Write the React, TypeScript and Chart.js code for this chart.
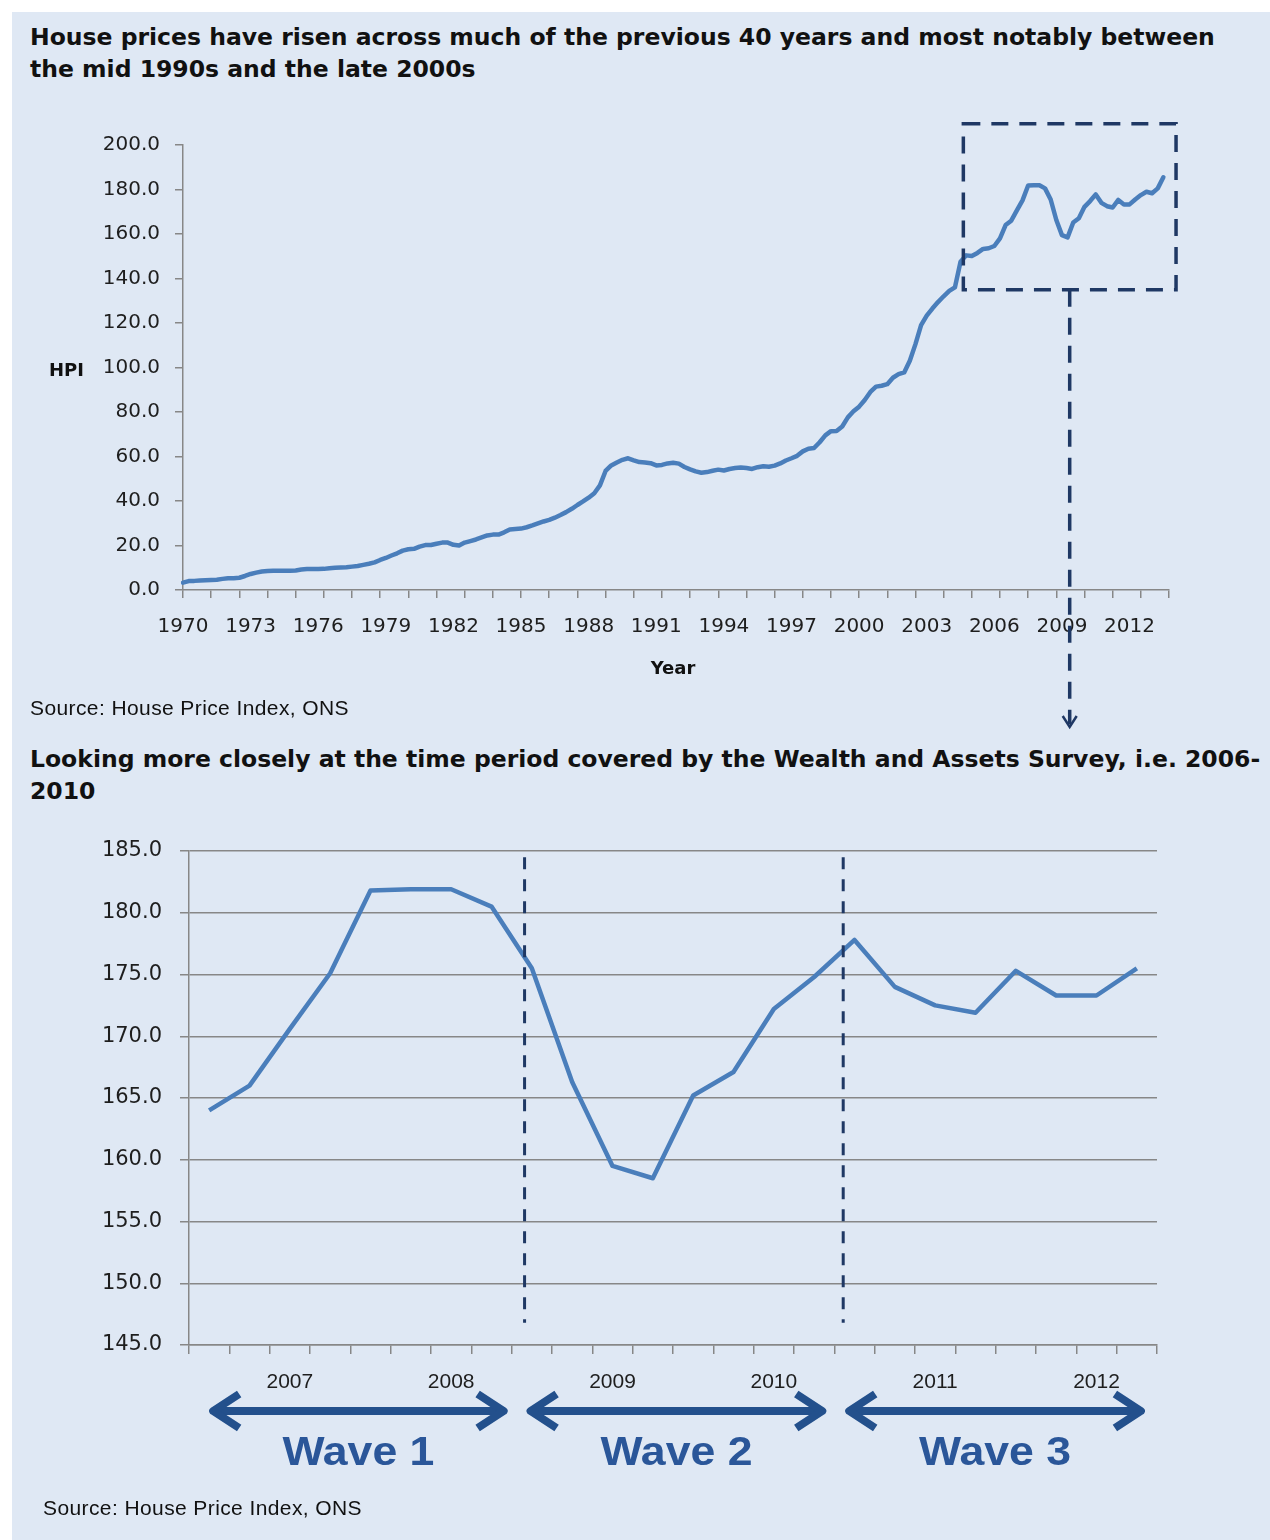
import React, { useEffect, useRef } from "react";
import { Chart, registerables } from "chart.js";

Chart.register(...registerables);

// ---------- data ----------
const hpiYears: number[] = Array.from({ length: 44 }, (_, k) => 1970 + k);
const hpiQuarterLabels: string[] = hpiYears.flatMap((y) => [1, 2, 3, 4].map((q) => `${y} Q${q}`));

// ONS House Price Index, quarterly 1970 Q1 .. 2013 Q3
const hpiQuarterly: number[] = [
  3.3, 4.0, 4.1, 4.3,
  4.4, 4.5, 4.6, 5.0,
  5.3, 5.3, 5.5, 6.3,
  7.2, 7.8, 8.3, 8.5,
  8.6, 8.7, 8.7, 8.7,
  8.8, 9.2, 9.4, 9.4,
  9.4, 9.5, 9.8, 10.0,
  10.1, 10.2, 10.5, 10.8,
  11.3, 11.8, 12.4, 13.5,
  14.4, 15.5, 16.5, 17.7,
  18.3, 18.5, 19.5, 20.2,
  20.2, 20.8, 21.3, 21.3,
  20.3, 20.0, 21.3, 22.0,
  22.7, 23.6, 24.5, 24.9,
  24.9, 25.9, 27.2, 27.4,
  27.6, 28.2, 29.0, 29.9,
  30.8, 31.5, 32.5, 33.7,
  35.0, 36.5, 38.2, 39.8,
  41.5, 43.5, 47.0, 53.5,
  56.0, 57.3, 58.5, 59.2,
  58.3, 57.5, 57.3, 57.0,
  56.0, 56.2, 56.9, 57.2,
  56.8, 55.3, 54.2, 53.3,
  52.7, 53.0, 53.6, 54.1,
  53.7, 54.4, 54.8, 55.1,
  54.8, 54.4, 55.2, 55.6,
  55.4, 55.9, 56.9, 58.2,
  59.2, 60.3, 62.3, 63.5,
  63.8, 66.4, 69.5, 71.4,
  71.5, 73.5, 77.6, 80.3,
  82.4, 85.4, 89.0, 91.4,
  91.8, 92.5, 95.4, 97.0,
  97.8, 103.0, 110.5, 119.0,
  123.3, 126.5, 129.4, 132.0,
  134.4, 136.0, 147.5, 150.4,
  150.1, 151.5, 153.3, 153.6,
  154.6, 158.0, 164.0, 166.0,
  170.6, 175.1, 181.8, 181.9,
  181.9, 180.5, 175.5, 166.3,
  159.5, 158.5, 165.2, 167.1,
  172.2, 174.8, 177.8, 174.0,
  172.5, 171.9, 175.3, 173.3,
  173.3, 175.5, 177.5, 179.0,
  178.3, 180.5, 185.5,
];

const topYMin = 0;
const topYMax = 200;
const topYStep = 20;

// highlighted period on the top chart (quarter index, HPI)
const zoomBoxQuarters = [138.5, 176.25];
const zoomBoxHpi = [134.9, 209.6];

// Wealth and Assets Survey period, quarterly 2006 Q3 .. 2012 Q2
const waveQuarterLabels: string[] = [
  "2006 Q3", "2006 Q4",
  "2007 Q1", "2007 Q2", "2007 Q3", "2007 Q4",
  "2008 Q1", "2008 Q2", "2008 Q3", "2008 Q4",
  "2009 Q1", "2009 Q2", "2009 Q3", "2009 Q4",
  "2010 Q1", "2010 Q2", "2010 Q3", "2010 Q4",
  "2011 Q1", "2011 Q2", "2011 Q3", "2011 Q4",
  "2012 Q1", "2012 Q2",
];
const waveHpi: number[] = [
  164.0, 166.0,
  170.6, 175.1, 181.8, 181.9,
  181.9, 180.5, 175.5, 166.3,
  159.5, 158.5, 165.2, 167.1,
  172.2, 174.8, 177.8, 174.0,
  172.5, 171.9, 175.3, 173.3,
  173.3, 175.5,
];
const bottomYMin = 145;
const bottomYMax = 185;
const bottomYStep = 5;

const waveNames = ["Wave 1", "Wave 2", "Wave 3"];
const waveStarts = [0, 7.87, 15.77];
const waveEnds = [7.4, 15.3, 23.2];
const waveDividers = [7.82, 15.72];
const dividerHpiRange = [146.8, 184.5];

// ---------- styles ----------
const LINE = "#4a7ebb";
const AXIS = "#878787";
const TEXT = "#1e1e1e";
const NAVY = "#1f3864";
const ARROW = "#23508c";
const WAVE_TEXT = "#2a5699";
const PANEL = "#dfe8f4";
const TICK_FONT = "'DejaVu Sans', sans-serif";
const WAVE_LABEL_WIDTH = 152;

const zoomBoxPlugin = {
  id: "zoomBox",
  afterDraw(chart: any) {
    const { ctx, scales, chartArea } = chart;
    const xs = scales.x;
    const ys = scales.y;
    const x1 = xs.getPixelForValue(zoomBoxQuarters[0]);
    const x2 = xs.getPixelForValue(zoomBoxQuarters[1]);
    const yb = ys.getPixelForValue(zoomBoxHpi[0]);
    const yt = ys.getPixelForValue(zoomBoxHpi[1]);
    const xc = (x1 + x2) / 2;
    const tipY = chartArea.bottom + 137;
    ctx.save();
    ctx.strokeStyle = NAVY;
    ctx.lineWidth = 3.5;
    ctx.setLineDash([17, 11]);
    ctx.strokeRect(x1, yt, x2 - x1, yb - yt);
    ctx.beginPath();
    ctx.moveTo(xc, yb);
    ctx.lineTo(xc, tipY - 3);
    ctx.stroke();
    ctx.setLineDash([]);
    ctx.lineWidth = 2.5;
    ctx.beginPath();
    ctx.moveTo(xc - 7, tipY - 11);
    ctx.lineTo(xc, tipY);
    ctx.lineTo(xc + 7, tipY - 11);
    ctx.stroke();
    ctx.restore();
  },
};

function drawDoubleArrow(ctx: CanvasRenderingContext2D, x1: number, x2: number, y: number) {
  ctx.lineWidth = 8;
  ctx.lineCap = "butt";
  ctx.lineJoin = "round";
  ctx.beginPath();
  ctx.moveTo(x1 + 6, y);
  ctx.lineTo(x2 - 6, y);
  ctx.stroke();
  ctx.beginPath();
  ctx.moveTo(x1 + 30, y - 17);
  ctx.lineTo(x1 + 4, y);
  ctx.lineTo(x1 + 30, y + 17);
  ctx.stroke();
  ctx.beginPath();
  ctx.moveTo(x2 - 30, y - 17);
  ctx.lineTo(x2 - 4, y);
  ctx.lineTo(x2 - 30, y + 17);
  ctx.stroke();
}

const wavesPlugin = {
  id: "waves",
  afterDraw(chart: any) {
    const { ctx, scales, chartArea } = chart;
    const xs = scales.x;
    const ys = scales.y;
    ctx.save();
    ctx.strokeStyle = NAVY;
    ctx.lineWidth = 3;
    ctx.setLineDash([12, 10]);
    waveDividers.forEach((d) => {
      const x = xs.getPixelForValue(d);
      ctx.beginPath();
      ctx.moveTo(x, ys.getPixelForValue(dividerHpiRange[1]));
      ctx.lineTo(x, ys.getPixelForValue(dividerHpiRange[0]));
      ctx.stroke();
    });
    ctx.setLineDash([]);
    const arrowY = chartArea.bottom + 66;
    const labelY = chartArea.bottom + 120;
    waveNames.forEach((name, i) => {
      const a = xs.getPixelForValue(waveStarts[i]);
      const b = xs.getPixelForValue(waveEnds[i]);
      ctx.strokeStyle = ARROW;
      drawDoubleArrow(ctx, a, b, arrowY);
      ctx.fillStyle = WAVE_TEXT;
      ctx.font = "bold 41px 'Liberation Sans Narrow', 'Liberation Sans', Arial, sans-serif";
      ctx.textAlign = "center";
      ctx.textBaseline = "alphabetic";
      const w = ctx.measureText(name).width;
      const sx = WAVE_LABEL_WIDTH / w;
      ctx.save();
      ctx.translate((a + b) / 2, labelY);
      ctx.scale(sx, 1);
      ctx.fillText(name, 0, 0);
      ctx.restore();
    });
    ctx.restore();
  },
};

function TopChart() {
  const ref = useRef<HTMLCanvasElement | null>(null);
  useEffect(() => {
    const canvas = ref.current;
    if (!canvas) return;
    const tickColor = (c: any) => (c.index === undefined || c.index % 5 === 0 ? AXIS : "rgba(0,0,0,0)");
    const chart = new Chart(canvas, {
      type: "line",
      data: {
        labels: hpiQuarterLabels,
        datasets: [
          {
            data: hpiQuarterly,
            borderColor: LINE,
            borderWidth: 4.5,
            pointRadius: 0,
            tension: 0,
            fill: false,
            borderJoinStyle: "round",
            borderCapStyle: "round",
          },
        ],
      },
      options: {
        responsive: false,
        animation: false,
        layout: { padding: { left: 0, top: 45, right: 101, bottom: 0 } },
        plugins: { legend: { display: false }, tooltip: { enabled: false } },
        scales: {
          x: {
            type: "category",
            offset: false,
            grid: {
              display: true,
              drawOnChartArea: false,
              drawTicks: true,
              tickLength: 8,
              lineWidth: 1.5,
              tickWidth: 1.5,
              color: tickColor,
              tickColor: tickColor,
            },
            border: { display: true, color: AXIS, width: 1.5 },
            ticks: {
              autoSkip: false,
              maxRotation: 0,
              minRotation: 0,
              padding: 17,
              color: TEXT,
              font: { family: TICK_FONT, size: 20 },
              callback: (_v: any, i: number) => (i % 12 === 0 ? hpiQuarterLabels[i].slice(0, 4) : ""),
            },
            afterFit: (s: any) => {
              s.height = 150;
            },
          },
          y: {
            min: topYMin,
            max: topYMax,
            grid: {
              drawOnChartArea: false,
              drawTicks: true,
              tickLength: 8,
              color: AXIS,
              lineWidth: 1.5,
            },
            border: { display: true, color: AXIS, width: 1.5 },
            ticks: {
              stepSize: topYStep,
              padding: 15,
              color: TEXT,
              font: { family: TICK_FONT, size: 20 },
              callback: (v: any) => Number(v).toFixed(1),
            },
            afterFit: (s: any) => {
              s.width = 183;
            },
          },
        },
      },
      plugins: [zoomBoxPlugin],
    } as any);
    return () => chart.destroy();
  }, []);
  return (
    <canvas
      ref={ref}
      width={1270}
      height={640}
      style={{ position: "absolute", left: 0, top: 100, width: 1270, height: 640, zIndex: 1 }}
    />
  );
}

function BottomChart() {
  const ref = useRef<HTMLCanvasElement | null>(null);
  useEffect(() => {
    const canvas = ref.current;
    if (!canvas) return;
    const chart = new Chart(canvas, {
      type: "line",
      data: {
        labels: waveQuarterLabels,
        datasets: [
          {
            data: waveHpi,
            borderColor: LINE,
            borderWidth: 4.5,
            pointRadius: 0,
            tension: 0,
            fill: false,
            borderJoinStyle: "round",
            borderCapStyle: "butt",
          },
        ],
      },
      options: {
        responsive: false,
        animation: false,
        layout: { padding: { left: 0, top: 31, right: 113, bottom: 0 } },
        plugins: { legend: { display: false }, tooltip: { enabled: false } },
        scales: {
          x: {
            type: "category",
            offset: true,
            grid: {
              display: true,
              offset: true,
              drawOnChartArea: false,
              drawTicks: true,
              tickLength: 9,
              lineWidth: 1.5,
              color: AXIS,
            },
            border: { display: true, color: AXIS, width: 1.5 },
            ticks: {
              autoSkip: false,
              maxRotation: 0,
              minRotation: 0,
              padding: 16,
              color: TEXT,
              font: { family: "'Liberation Sans', Arial, sans-serif", size: 21 },
              callback: (_v: any, i: number) =>
                waveQuarterLabels[i].endsWith("Q1") ? waveQuarterLabels[i].slice(0, 4) : "",
            },
            afterFit: (s: any) => {
              s.height = 175;
            },
          },
          y: {
            min: bottomYMin,
            max: bottomYMax,
            grid: {
              drawOnChartArea: true,
              drawTicks: true,
              tickLength: 9,
              color: AXIS,
              lineWidth: 1.5,
            },
            border: { display: true, color: AXIS, width: 1.5 },
            ticks: {
              stepSize: bottomYStep,
              padding: 18,
              color: TEXT,
              font: { family: TICK_FONT, size: 21 },
              callback: (v: any) => Number(v).toFixed(1),
            },
            afterFit: (s: any) => {
              s.width = 189;
            },
          },
        },
      },
      plugins: [wavesPlugin],
    } as any);
    return () => chart.destroy();
  }, []);
  return (
    <canvas
      ref={ref}
      width={1270}
      height={700}
      style={{ position: "absolute", left: 0, top: 820, width: 1270, height: 700, zIndex: 1 }}
    />
  );
}

const titleStyle: React.CSSProperties = {
  position: "absolute",
  left: 30,
  fontFamily: "'DejaVu Sans', sans-serif",
  fontWeight: "bold",
  fontSize: 23.5,
  lineHeight: "32px",
  color: "#111111",
  whiteSpace: "nowrap",
  zIndex: 2,
};

const sourceStyle: React.CSSProperties = {
  position: "absolute",
  fontFamily: "'Liberation Sans', Arial, sans-serif",
  fontSize: 21,
  letterSpacing: "0.4px",
  lineHeight: "22px",
  color: "#111111",
  whiteSpace: "nowrap",
  zIndex: 2,
};

const axisTitleStyle: React.CSSProperties = {
  position: "absolute",
  fontFamily: "'DejaVu Sans', sans-serif",
  fontWeight: "bold",
  fontSize: 18,
  lineHeight: "20px",
  color: "#111111",
  whiteSpace: "nowrap",
  zIndex: 2,
};

export default function App() {
  return (
    <div style={{ position: "absolute", left: 0, top: 0, width: 1270, height: 1540, background: "#ffffff", overflow: "hidden" }}>
      <div style={{ position: "absolute", left: 12, top: 12, width: 1258, height: 1528, background: PANEL }} />
      <div style={{ ...titleStyle, top: 21 }}>
        House prices have risen across much of the previous 40 years and most notably between
        <br />
        the mid 1990s and the late 2000s
      </div>
      <TopChart />
      <div style={{ ...axisTitleStyle, left: 49, top: 360 }}>HPI</div>
      <div style={{ ...axisTitleStyle, left: 673, top: 658, transform: "translateX(-50%)" }}>Year</div>
      <div style={{ ...sourceStyle, left: 30, top: 697 }}>Source: House Price Index, ONS</div>
      <div style={{ ...titleStyle, top: 743 }}>
        Looking more closely at the time period covered by the Wealth and Assets Survey, i.e. 2006-
        <br />
        2010
      </div>
      <BottomChart />
      <div style={{ ...sourceStyle, left: 43, top: 1497 }}>Source: House Price Index, ONS</div>
    </div>
  );
}
